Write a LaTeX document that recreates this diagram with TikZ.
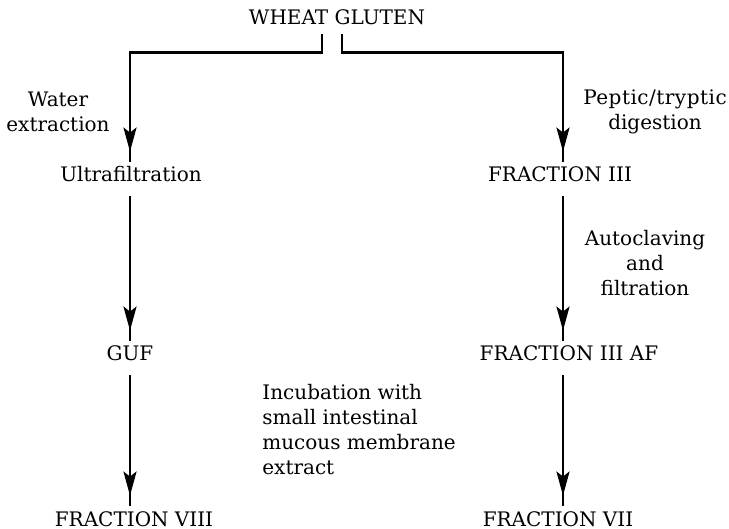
\documentclass[tikz,border=0pt]{standalone}
\usepackage{fontspec}
\setmainfont{DejaVu Serif}
\usetikzlibrary{arrows.meta,decorations.markings}
\begin{document}
\begin{tikzpicture}[x=0.5pt,y=-0.5pt,
  lbl/.style={font=\fontsize{10}{12.5}\selectfont, inner sep=0pt, align=center},
  stage/.style={font=\fontsize{10}{12.5}\selectfont, inner sep=0pt, text height=10pt, text depth=7pt, anchor=base},
  conn/.style={line width=1.4pt},
  flow/.style={conn, postaction={decorate}, decoration={markings, mark=at position -5pt with {\arrow{Stealth[length=12pt,width=6.5pt,inset=2.5pt]}}}}
]
\useasboundingbox (0,0) rectangle (729,529);
\coordinate (colL) at (130,0);
\coordinate (colR) at (563,0);
\node[stage, text depth=4.5pt] (wg) at (337,25) {WHEAT GLUTEN};
\node[stage] (uf) at (131,182) {Ultrafiltration};
\node[stage] (guf) at (130,361) {GUF};
\node[stage] (f8) at (134,526) {FRACTION VIII};
\node[stage] (f3) at (560,182) {FRACTION III};
\node[stage] (f3af) at (569,361) {FRACTION III AF};
\node[stage] (f7) at (558,526) {FRACTION VII};
\node[lbl] (water) at (58,112) {Water\\extraction};
\node[lbl] (pept) at (655,112) {{\addfontfeature{LetterSpace=2.5}Peptic/tryptic}\\digestion};
\node[lbl] (auto) at (645,263) {Autoclaving\\and\\filtration};
\node[lbl, align=left, anchor=west] (incub) at (262,430) {Incubation with\\small intestinal\\mucous membrane\\extract};
\draw[flow] ([xshift=-7.5pt]wg.south) -- ++(0,18) -| (uf.north -| colL);
\draw[flow] ([xshift=2.5pt]wg.south) -- ++(0,18) -| (f3.north -| colR);
\draw[flow] (uf.south -| colL) -- (guf.north -| colL);
\draw[flow] (guf.south -| colL) -- (f8.north -| colL);
\draw[flow] (f3.south -| colR) -- (f3af.north -| colR);
\draw[flow] (f3af.south -| colR) -- (f7.north -| colR);
\end{tikzpicture}
\end{document}
